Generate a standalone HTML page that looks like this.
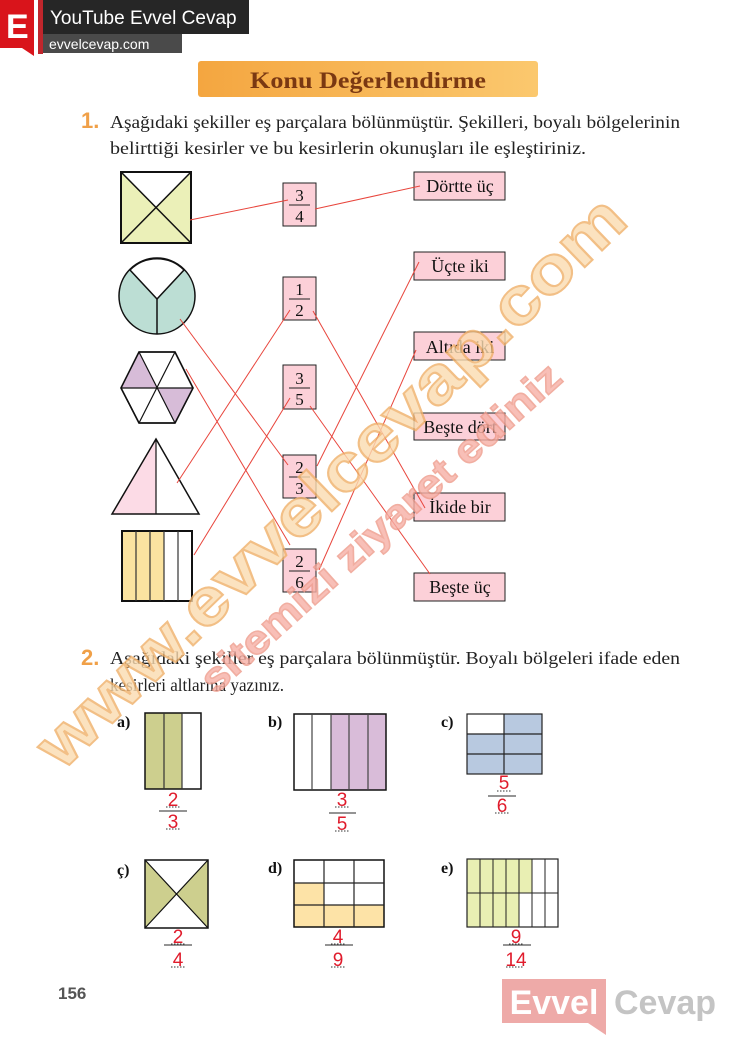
<!DOCTYPE html>
<html><head><meta charset="utf-8"><style>
html,body{margin:0;padding:0;background:#fff;}
svg{display:block}
.s{font-family:"Liberation Serif",serif;}
.a{font-family:"Liberation Sans",sans-serif;}
</style></head><body>
<svg width="737" height="1039" viewBox="0 0 737 1039" xmlns="http://www.w3.org/2000/svg">
<defs>
<linearGradient id="g" x1="0" x2="1"><stop offset="0" stop-color="#f4a640"/><stop offset="1" stop-color="#fbc86e"/></linearGradient>
</defs>
<!-- header -->
<rect x="0" y="0" width="34" height="48" fill="#d9141b"/>
<polygon points="22,48 34,48 34,56" fill="#d9141b"/>
<text x="6" y="38" class="a" font-size="34" font-weight="bold" fill="#fff">E</text>
<rect x="38" y="0" width="5" height="54" fill="#c0262c"/>
<rect x="43" y="0" width="206" height="34" fill="#262626"/>
<text x="50" y="24" class="a" font-size="19" fill="#fff">YouTube Evvel Cevap</text>
<rect x="43" y="34" width="139" height="19" fill="#4a4a4a"/>
<text x="49" y="49" class="a" font-size="14" fill="#fff">evvelcevap.com</text>
<!-- title -->
<rect x="198" y="61" width="340" height="36" rx="3" fill="url(#g)"/>
<text x="250" y="88" textLength="236" lengthAdjust="spacingAndGlyphs" class="s" font-size="23" font-weight="bold" fill="#7a3812">Konu Değerlendirme</text>
<!-- Q1 -->
<text x="81" y="128" class="a" font-size="22" font-weight="bold" fill="#f0a048">1.</text>
<text x="110" y="128" textLength="570" lengthAdjust="spacingAndGlyphs" class="s" font-size="18" fill="#222">Aşağıdaki şekiller eş parçalara bölünmüştür. Şekilleri, boyalı bölgelerinin</text>
<text x="110" y="154" textLength="476" lengthAdjust="spacingAndGlyphs" class="s" font-size="18" fill="#222">belirttiği kesirler ve bu kesirlerin okunuşları ile eşleştiriniz.</text>
<!-- square -->
<rect x="121" y="172" width="70" height="71" fill="#ebf0b8"/>
<polygon points="121,172 191,172 156,207" fill="#fff"/>
<rect x="121" y="172" width="70" height="71" fill="none" stroke="#111" stroke-width="2"/>
<line x1="121" y1="172" x2="191" y2="243" stroke="#111" stroke-width="1.5"/>
<line x1="191" y1="172" x2="121" y2="243" stroke="#111" stroke-width="1.5"/>
<!-- circle -->
<circle cx="157" cy="296" r="38" fill="#bcded4" stroke="#111" stroke-width="1.5"/>
<path d="M157,299 L130,270 A38,38 0 0 1 184,270 Z" fill="#fff" stroke="#111" stroke-width="1.5"/>
<line x1="157" y1="299" x2="157" y2="334" stroke="#111" stroke-width="1.5"/>
<!-- hexagon -->
<polygon points="139,352 175,352 193,388 175,423 139,423 121,388" fill="#fff" stroke="#111" stroke-width="1.5"/>
<polygon points="139,352 157,388 121,388" fill="#d7bcd8"/>
<polygon points="193,388 157,388 175,423" fill="#d7bcd8"/>
<polygon points="139,352 175,352 193,388 175,423 139,423 121,388" fill="none" stroke="#111" stroke-width="1.5"/>
<path d="M139,352 L175,423 M175,352 L139,423 M121,388 L193,388" stroke="#111" stroke-width="1.2"/>
<!-- triangle -->
<polygon points="156,439 156,514 112,514" fill="#fcdbe6"/>
<polygon points="156,439 199,514 112,514" fill="none" stroke="#111" stroke-width="1.5"/>
<line x1="156" y1="439" x2="156" y2="514" stroke="#111" stroke-width="1.2"/>
<!-- bars -->
<rect x="122" y="531" width="42" height="70" fill="#fbe3a0"/>
<rect x="122" y="531" width="70" height="70" fill="none" stroke="#111" stroke-width="2"/>
<path d="M136,531V601M150,531V601M164,531V601M178,531V601" stroke="#333" stroke-width="1.2"/>
<!-- fraction boxes -->
<g class="s" font-size="17" fill="#111" text-anchor="middle">
<rect x="283" y="183" width="33" height="43" fill="#fcd0d8" stroke="#222"/><text x="299.5" y="201">3</text><line x1="289" y1="205" x2="310" y2="205" stroke="#222"/><text x="299.5" y="222">4</text>
<rect x="283" y="277" width="33" height="43" fill="#fcd0d8" stroke="#222"/><text x="299.5" y="295">1</text><line x1="289" y1="299" x2="310" y2="299" stroke="#222"/><text x="299.5" y="316">2</text>
<rect x="283" y="365" width="33" height="44" fill="#fcd0d8" stroke="#222"/><text x="299.5" y="384">3</text><line x1="289" y1="388" x2="310" y2="388" stroke="#222"/><text x="299.5" y="405">5</text>
<rect x="283" y="455" width="33" height="43" fill="#fcd0d8" stroke="#222"/><text x="299.5" y="473">2</text><line x1="289" y1="477" x2="310" y2="477" stroke="#222"/><text x="299.5" y="494">3</text>
<rect x="283" y="549" width="33" height="43" fill="#fcd0d8" stroke="#222"/><text x="299.5" y="567">2</text><line x1="289" y1="571" x2="310" y2="571" stroke="#222"/><text x="299.5" y="588">6</text>
</g>
<g class="s" font-size="18" fill="#111" text-anchor="middle">
<rect x="414" y="172" width="91" height="28" fill="#fcd0d8" stroke="#222"/><text x="460" y="192">Dörtte üç</text>
<rect x="414" y="252" width="91" height="28" fill="#fcd0d8" stroke="#222"/><text x="460" y="272">Üçte iki</text>
<rect x="414" y="332" width="91" height="28" fill="#fcd0d8" stroke="#222"/><text x="460" y="353">Altıda iki</text>
<rect x="414" y="413" width="91" height="27" fill="#fcd0d8" stroke="#222"/><text x="460" y="433">Beşte dört</text>
<rect x="414" y="493" width="91" height="28" fill="#fcd0d8" stroke="#222"/><text x="460" y="513">İkide bir</text>
<rect x="414" y="573" width="91" height="28" fill="#fcd0d8" stroke="#222"/><text x="460" y="593">Beşte üç</text>
</g>
<!-- red lines -->
<g stroke="#e8453c" stroke-width="1">
<line x1="190" y1="220" x2="288" y2="200"/><line x1="315" y1="209" x2="420" y2="186"/>
<line x1="180" y1="319" x2="288" y2="465"/>
<line x1="186" y1="369" x2="290" y2="545"/>
<line x1="177" y1="483" x2="290" y2="310"/>
<line x1="194" y1="555" x2="290" y2="398"/>
<line x1="313" y1="311" x2="425" y2="508"/>
<line x1="310" y1="406" x2="430" y2="574"/>
<line x1="317" y1="466" x2="419" y2="262"/>
<line x1="319" y1="570" x2="416" y2="350"/>
</g>
<!-- Q2 -->
<text x="81" y="665" class="a" font-size="22" font-weight="bold" fill="#f0a048">2.</text>
<text x="110" y="664" textLength="570" lengthAdjust="spacingAndGlyphs" class="s" font-size="18" fill="#222">Aşağıdaki şekiller eş parçalara bölünmüştür. Boyalı bölgeleri ifade eden</text>
<text x="110" y="691" textLength="174" lengthAdjust="spacingAndGlyphs" class="s" font-size="18" fill="#222">kesirleri altlarına yazınız.</text>
<g font-family="Liberation Serif,serif" font-size="16" font-weight="bold" fill="#111">
<text x="117" y="727">a)</text><text x="268" y="727">b)</text><text x="441" y="727">c)</text>
<text x="117" y="875">ç)</text><text x="268" y="873">d)</text><text x="441" y="873">e)</text>
</g>
<!-- a -->
<rect x="145" y="713" width="37" height="76" fill="#cdcf8e"/>
<rect x="145" y="713" width="56" height="76" fill="none" stroke="#111" stroke-width="1.5"/>
<path d="M164,713V789M182,713V789" stroke="#333" stroke-width="1.2"/>
<!-- b -->
<rect x="331" y="714" width="55" height="76" fill="#d9bcd9"/>
<rect x="294" y="714" width="92" height="76" fill="none" stroke="#111" stroke-width="1.5"/>
<path d="M312,714V790M331,714V790M349,714V790M368,714V790" stroke="#444" stroke-width="1.2"/>
<!-- c -->
<rect x="467" y="714" width="75" height="60" fill="#b8c9e0"/>
<rect x="467" y="714" width="37" height="20" fill="#fff"/>
<rect x="467" y="714" width="75" height="60" fill="none" stroke="#222" stroke-width="1.2"/>
<path d="M504,714V774M467,734H542M467,754H542" stroke="#222" stroke-width="1.2"/>
<!-- ç -->
<rect x="145" y="860" width="63" height="68" fill="#cdcf8e"/>
<polygon points="145,860 208,860 176,894" fill="#fff"/>
<polygon points="145,928 208,928 176,894" fill="#fff"/>
<rect x="145" y="860" width="63" height="68" fill="none" stroke="#111" stroke-width="1.5"/>
<path d="M145,860L208,928M208,860L145,928" stroke="#111" stroke-width="1.2"/>
<!-- d -->
<rect x="294" y="883" width="30" height="22" fill="#fde3a7"/>
<rect x="294" y="905" width="90" height="22" fill="#fde3a7"/>
<rect x="294" y="860" width="90" height="67" fill="none" stroke="#111" stroke-width="1.5"/>
<path d="M324,860V927M354,860V927M294,883H384M294,905H384" stroke="#222" stroke-width="1.2"/>
<!-- e -->
<rect x="467" y="859" width="65" height="34" fill="#e9efb3"/>
<rect x="467" y="893" width="52" height="34" fill="#e9efb3"/>
<rect x="467" y="859" width="91" height="68" fill="none" stroke="#222" stroke-width="1.2"/>
<path d="M480,859V927M493,859V927M506,859V927M519,859V927M532,859V927M545,859V927M467,893H558" stroke="#222" stroke-width="1"/>
<!-- answers -->
<g class="a" font-size="19" fill="#e01c2c" text-anchor="middle">
<text x="173" y="806">2</text><text x="173" y="828">3</text>
<text x="342" y="806">3</text><text x="342" y="830">5</text>
<text x="504" y="789">5</text><text x="502" y="812">6</text>
<text x="178" y="943">2</text><text x="178" y="966">4</text>
<text x="338" y="943">4</text><text x="338" y="966">9</text>
<text x="516" y="943">9</text><text x="516" y="966">14</text>
</g>
<g stroke="#555" stroke-width="1.2">
<line x1="159" y1="811" x2="187" y2="811"/><line x1="329" y1="813" x2="356" y2="813"/><line x1="488" y1="796" x2="516" y2="796"/>
<line x1="164" y1="945" x2="192" y2="945"/><line x1="325" y1="945" x2="353" y2="945"/><line x1="503" y1="945" x2="531" y2="945"/>
</g>
<g stroke="#333" stroke-width="1" stroke-dasharray="1.5,1.5">
<path d="M166,807H180M166,829H180M335,807H349M335,831H349M497,791H511M495,813H509M171,944H185M171,967H185M331,944H345M331,967H345M509,944H523M506,967H524"/>
</g>
<!-- watermark -->
<g opacity="0.8">
<text transform="translate(62,772) rotate(-44)" textLength="790" lengthAdjust="spacingAndGlyphs" class="a" font-size="66" font-weight="bold" fill="#fbdcb0" stroke="#f0b068" stroke-width="2">www.evvelcevap.com</text>
<text transform="translate(215,695) rotate(-42)" textLength="470" lengthAdjust="spacingAndGlyphs" class="a" font-size="40" font-weight="bold" fill="#f7b0a6" stroke="#ee9a8a" stroke-width="1.5">sitemizi ziyaret ediniz</text>
</g>
<!-- footer -->
<text x="58" y="999" class="a" font-size="17" font-weight="bold" fill="#555">156</text>
<rect x="502" y="979" width="104" height="44" fill="#eeaaa8"/>
<polygon points="588,1023 606,1023 606,1035" fill="#eeaaa8"/>
<text x="554" y="1014" text-anchor="middle" class="a" font-size="34" font-weight="bold" fill="#fff">Evvel</text>
<text x="614" y="1014" class="a" font-size="34" font-weight="bold" fill="#c4c4c4">Cevap</text>
</svg>
</body></html>
